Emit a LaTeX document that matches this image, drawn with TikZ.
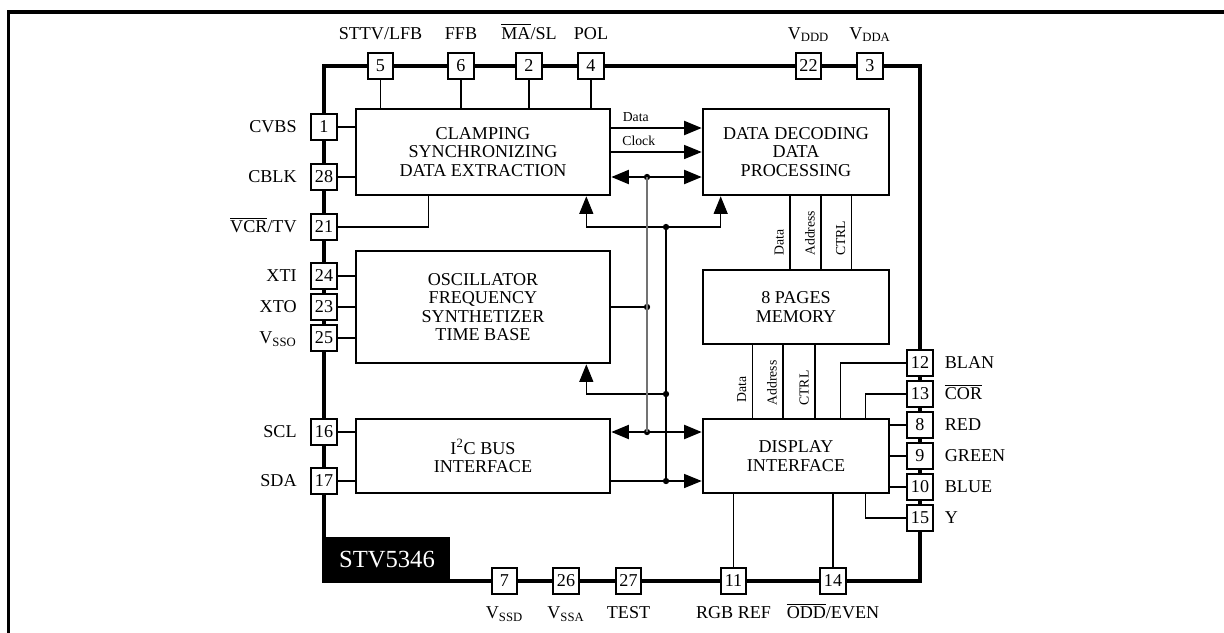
\documentclass[tikz,border=0pt]{standalone}
\usepackage{fontspec}
\setmainfont{Liberation Serif}
\usetikzlibrary{arrows.meta, positioning, calc}

\tikzset{
  block/.style={draw, line width=1.5pt, align=center, inner sep=0pt,
    font=\fontsize{10.3}{10.5}\selectfont},
  pinbox/.style={draw, line width=0.9pt, fill=white, minimum size=5.1mm,
    inner sep=0pt, font=\fontsize{10.3}{11}\selectfont},
  pinlbl/.style={inner sep=0pt, text height=6.8pt, text depth=0pt,
    font=\fontsize{10.3}{11}\selectfont},
  wire/.style={line width=0.6pt},
  bus/.style={line width=1.1pt},
  buslbl/.style={font=\fontsize{7.8}{8}\selectfont, inner sep=3.2pt},
  dot/.style={circle, fill, inner sep=0pt, minimum size=3.6pt},
}

\begin{document}
\begin{tikzpicture}[x=0.2mm, y=-0.2mm, >={Triangle[length=10pt, width=8pt]}]
\useasboundingbox (0,0) rectangle (1224,633);

% page frame
\draw[line width=2pt] (1224,12) -| (8.7,633);

% chip outline
\draw[line width=2.4pt] (324,66) rectangle (920,581);

% =========== blocks ===========
\node[block, minimum width=50.8mm, minimum height=17.2mm] (clamp) at (483,152)
  {CLAMPING\\SYNCHRONIZING\\DATA EXTRACTION};
\node[block, minimum width=50.8mm, minimum height=22.4mm] (osc) at (483,307)
  {OSCILLATOR\\FREQUENCY\\SYNTHETIZER\\TIME BASE};
\node[block, minimum width=50.8mm, minimum height=14.8mm] (i2c) at (483,456)
  {I\textsuperscript{2}C BUS\\INTERFACE};
\node[block, minimum width=37.2mm, minimum height=17.2mm] (dec) at (796,152)
  {DATA DECODING\\DATA\\PROCESSING};
\node[block, minimum width=37.2mm, minimum height=14.8mm] (mem) at (796,307)
  {8 PAGES\\MEMORY};
\node[block, minimum width=37.2mm, minimum height=14.8mm] (disp) at (796,456)
  {DISPLAY\\INTERFACE};

% junctions
\node[dot] (jb1) at (647,177) {};
\node[dot] (jo)  at (647,307) {};
\node[dot] (jb2) at (647,432) {};
\node[dot] (jc)  at (666,227) {};
\node[dot] (jo2) at (666,394) {};
\node[dot] (jd)  at (666,481) {};

% =========== internal buses ===========
\draw[bus, ->] ([yshift=4.8mm]clamp.east) -- ([yshift=4.8mm]dec.west)
  node[buslbl, pos=0, above right, xshift=6pt, inner xsep=0pt] {Data};
\draw[wire, ->] (clamp.east) -- (dec.west)
  node[buslbl, pos=0, above right, xshift=6pt, inner xsep=0pt] {Clock};
\draw[bus, <->] ([yshift=-5mm]clamp.east) -- ([yshift=-5mm]dec.west);

\draw[wire, ->] (jc.center) -| ([xshift=-5mm]clamp.south east);
\draw[wire, ->] (jc.center) -| ([xshift=3.8mm]dec.south west);
\draw[wire] (osc.east) -- (jo.center);
\draw[wire, ->] (jo2.center) -| ([xshift=-5mm]osc.south east);
\draw[bus, <->] ([yshift=4.8mm]i2c.east) -- ([yshift=4.8mm]disp.west);
\draw[wire, ->] ([yshift=-5mm]i2c.east) -- ([yshift=-5mm]disp.west);

\draw[wire, black!55] (jb1.center) -- (jb2.center);
\draw[wire] (jc.center) -- (jd.center);

% decoder <-> memory <-> display
\draw[wire] ([xshift=-1.2mm]mem.north) -- ([xshift=-1.2mm]dec.south)
  node[buslbl, pos=0.36, above, sloped] {Data};
\draw[wire] ([xshift=5mm]mem.north) -- ([xshift=5mm]dec.south)
  node[buslbl, pos=0.49, above, sloped] {Address};
\draw[wire] ([xshift=11.1mm]mem.north) -- ([xshift=11.1mm]dec.south)
  node[buslbl, pos=0.42, above, sloped] {CTRL};
\draw[wire] ([xshift=-8.7mm]disp.north) -- ([xshift=-8.7mm]mem.south)
  node[buslbl, pos=0.39, above, sloped] {Data};
\draw[wire] ([xshift=-2.6mm]disp.north) -- ([xshift=-2.6mm]mem.south)
  node[buslbl, pos=0.48, above, sloped] {Address};
\draw[wire] ([xshift=3.8mm]disp.north) -- ([xshift=3.8mm]mem.south)
  node[buslbl, pos=0.41, above, sloped] {CTRL};

% =========== pins ===========
% left side
\node[pinbox] (p1)  at (324,127) {1};
\node[pinbox] (p28) at (324,177) {28};
\node[pinbox] (p21) at (324,227) {21};
\node[pinbox] (p24) at (324,276) {24};
\node[pinbox] (p23) at (324,307) {23};
\node[pinbox] (p25) at (324,338) {25};
\node[pinbox] (p16) at (324,432) {16};
\node[pinbox] (p17) at (324,481) {17};
% top side
\node[pinbox] (p5)  at (380.5,66) {5};
\node[pinbox] (p6)  at (461,66) {6};
\node[pinbox] (p2)  at (529,66) {2};
\node[pinbox] (p4)  at (591,66) {4};
\node[pinbox] (p22) at (808.5,66) {22};
\node[pinbox] (p3)  at (870,66) {3};
% right side
\node[pinbox] (p12) at (920,363) {12};
\node[pinbox] (p13) at (920,394) {13};
\node[pinbox] (p8)  at (920,425) {8};
\node[pinbox] (p9)  at (920,456) {9};
\node[pinbox] (p10) at (920,487) {10};
\node[pinbox] (p15) at (920,518) {15};
% bottom side
\node[pinbox] (p7)  at (504.5,581) {7};
\node[pinbox] (p26) at (566,581) {26};
\node[pinbox] (p27) at (628.5,581) {27};
\node[pinbox] (p11) at (733.5,581) {11};
\node[pinbox] (p14) at (833,581) {14};

% pin wiring
\foreach \p in {p1,p28} \draw[wire] (\p) -- (\p -| clamp.west);
\foreach \p in {p24,p23,p25} \draw[wire] (\p) -- (\p -| osc.west);
\foreach \p in {p16,p17} \draw[wire] (\p) -- (\p -| i2c.west);
\foreach \p in {p5,p6,p2,p4} \draw[wire] (\p) -- (\p |- clamp.north);
\draw[wire] (p21) -| ([xshift=14.8mm]clamp.south west);
\foreach \p in {p8,p9,p10} \draw[wire] (\p) -- (\p -| disp.east);
\draw[wire] (p12) -| ([xshift=-10mm]disp.north east);
\draw[wire] (p13) -| ([xshift=-5mm]disp.north east);
\draw[wire] (p15) -| ([xshift=-5mm]disp.south east);
\draw[line width=1pt] (p11) -- (p11 |- disp.south);
\draw[wire] (p14) -- (p14 |- disp.south);

% pin names
\node[pinlbl, left=2.7mm of p1] {CVBS};
\node[pinlbl, left=2.7mm of p28] {CBLK};
\node[pinlbl, left=2.7mm of p21] {$\overline{\mbox{VCR}}$/TV};
\node[pinlbl, left=2.7mm of p24] {XTI};
\node[pinlbl, left=2.7mm of p23] {XTO};
\node[pinlbl, left=2.7mm of p25] {V\textsubscript{SSO}};
\node[pinlbl, left=2.7mm of p16] {SCL};
\node[pinlbl, left=2.7mm of p17] {SDA};

\node[pinlbl, above=2.6mm of p5] {STTV/LFB};
\node[pinlbl, above=2.6mm of p6] {FFB};
\node[pinlbl, above=2.6mm of p2] {$\overline{\mbox{MA}}$/SL};
\node[pinlbl, above=2.6mm of p4] {POL};
\node[pinlbl, above=2.6mm of p22] {V\textsubscript{DDD}};
\node[pinlbl, above=2.6mm of p3] {V\textsubscript{DDA}};

\node[pinlbl, right=2.2mm of p12] {BLAN};
\node[pinlbl, right=2.2mm of p13] {$\overline{\mbox{COR}}$};
\node[pinlbl, right=2.2mm of p8] {RED};
\node[pinlbl, right=2.2mm of p9] {GREEN};
\node[pinlbl, right=2.2mm of p10] {BLUE};
\node[pinlbl, right=2.2mm of p15] {Y};

\node[pinlbl, below=2.4mm of p7] {V\textsubscript{SSD}};
\node[pinlbl, below=2.4mm of p26] {V\textsubscript{SSA}};
\node[pinlbl, below=2.4mm of p27] {TEST};
\node[pinlbl, below=2.4mm of p11] {RGB REF};
\node[pinlbl, below=2.4mm of p14] {$\overline{\mbox{ODD}}$/EVEN};

% device name
\node[fill=black, text=white, minimum width=25.2mm, minimum height=9mm, inner sep=0pt,
  font=\fontsize{14}{16}\selectfont] (chipname) at (387,559.5) {STV5346};

\end{tikzpicture}
\end{document}
